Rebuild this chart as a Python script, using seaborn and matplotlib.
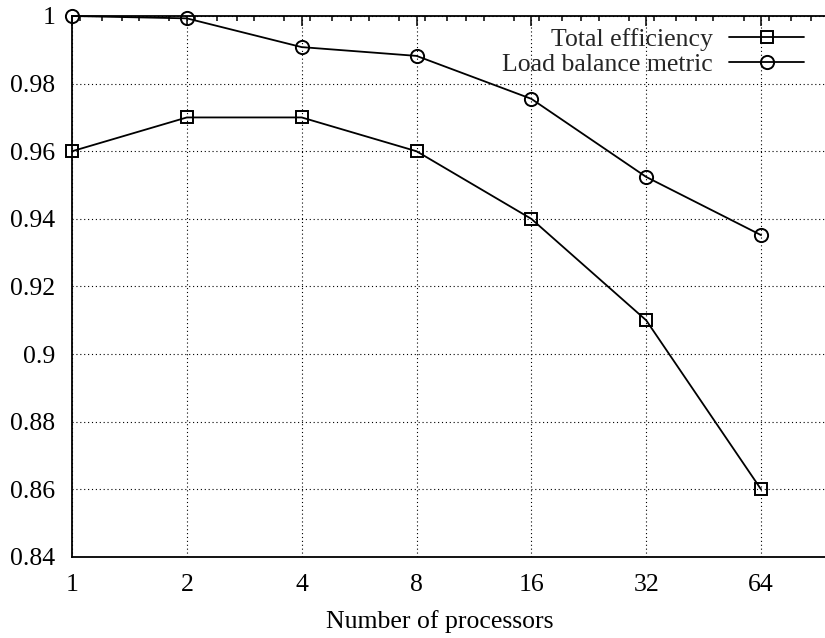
import numpy as np
import pandas as pd
import matplotlib
matplotlib.use("Agg")
import matplotlib.pyplot as plt
import matplotlib.ticker as mticker
import seaborn as sns

# ---- data ----
processors = [1, 2, 4, 8, 16, 32, 64]
total_efficiency = [0.96, 0.97, 0.97, 0.96, 0.94, 0.91, 0.86]
load_balance = [1.0, 0.9993, 0.9908, 0.9882, 0.9755, 0.9524, 0.9352]
series_names = ["Total efficiency", "Load balance metric"]
x_ticks = [1, 2, 4, 8, 16, 32, 64]
y_ticks = [0.84, 0.86, 0.88, 0.90, 0.92, 0.94, 0.96, 0.98, 1.0]
x_label = "Number of processors"
minor_subs = [1.05, 1.2, 1.35, 1.5, 1.8]

sns.set_style("white")
plt.rcParams["font.family"] = ["Liberation Serif", "DejaVu Serif"]
FS = 18.5

fig = plt.figure(figsize=(8.25, 6.38), dpi=100)
W, H = 825, 638
left_px, right_px, top_px, bottom_px = 72, 835, 16, 557
ax = fig.add_axes([left_px / W, 1 - bottom_px / H,
                   (right_px - left_px) / W, (bottom_px - top_px) / H])

df = pd.DataFrame({
    "processors": processors * 2,
    "value": total_efficiency + load_balance,
    "series": [series_names[0]] * len(processors) + [series_names[1]] * len(processors),
})

markers = {series_names[0]: "s", series_names[1]: "o"}
for name in series_names:
    sub = df[df["series"] == name]
    sns.lineplot(data=sub, x="processors", y="value", ax=ax, color="black",
                 marker=markers[name], markersize=9 if name == series_names[0] else 9.5,
                 markerfacecolor="none", markeredgecolor="black", markeredgewidth=1.4,
                 linewidth=1.3, label=name, clip_on=False, zorder=5)

ax.set_xscale("log", base=2)
ax.set_xlim(1, 100)
ax.set_ylim(0.84, 1.0)
ax.xaxis.set_major_locator(mticker.FixedLocator(x_ticks))
ax.xaxis.set_major_formatter(mticker.FixedFormatter([str(v) for v in x_ticks]))
minor_x = [m * s for m in x_ticks for s in minor_subs]
ax.xaxis.set_minor_locator(mticker.FixedLocator(minor_x))
ax.xaxis.set_minor_formatter(mticker.NullFormatter())
ax.yaxis.set_major_locator(mticker.FixedLocator(y_ticks))
ax.yaxis.set_major_formatter(mticker.FuncFormatter(lambda v, p: "%g" % round(v, 4)))
ax.yaxis.set_minor_locator(mticker.MultipleLocator(0.002))

ax.tick_params(which="both", direction="in", top=True, right=True, color="black",
               labelcolor="black", labelsize=FS)
ax.tick_params(which="major", length=7, width=1.1)
ax.tick_params(axis="x", which="major", pad=12)
ax.tick_params(axis="y", which="major", pad=12)
ax.tick_params(which="minor", length=3.5, width=1.1)
for s in ax.spines.values():
    s.set_color("black")
    s.set_linewidth(1.3)

ax.grid(True, which="major", color="black", linestyle=(0, (1, 2.5)), linewidth=0.8)
ax.set_axisbelow(True)

ax.set_xlabel(x_label, fontsize=FS, color="black")
ax.xaxis.set_label_coords((440 - left_px) / (right_px - left_px),
                          -(622 - bottom_px) / (bottom_px - top_px))
ax.xaxis.label.set_va("center")
ax.set_ylabel("")

leg = ax.legend(loc="upper right", bbox_to_anchor=(804 / W, 1 - 28 / H),
                bbox_transform=fig.transFigure, frameon=False, fontsize=FS,
                markerfirst=False, handlelength=2.9, handletextpad=0.65,
                labelspacing=0.08, borderpad=0, borderaxespad=0)

fig.savefig("out.png", dpi=100, facecolor="white")
